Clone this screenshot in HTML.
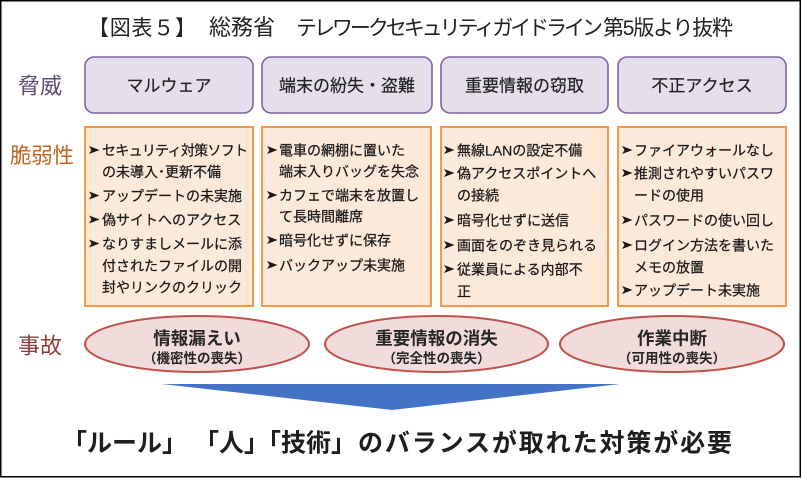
<!DOCTYPE html>
<html><head><meta charset="utf-8">
<style>
html,body{margin:0;padding:0;background:#fff;}
svg{display:block;}
text{font-family:"Liberation Sans","Noto Sans CJK JP",sans-serif;}
.v{font-size:14px;fill:#1a1a1a;stroke:#1a1a1a;stroke-width:0.25;}
</style></head>
<body>
<svg width="802" height="478" viewBox="0 0 802 478" xmlns="http://www.w3.org/2000/svg">
<rect x="0" y="0" width="802" height="478" fill="#fff"/>
<rect x="0.75" y="0.75" width="799.5" height="476" fill="none" stroke="#000" stroke-width="1.5"/>

<!-- Title -->
<g font-size="21" fill="#222">
<text x="88" y="35" textLength="108">【図表５】</text>
<text x="209" y="35" font-size="22">総務省</text>
<text x="296" y="35" textLength="307">テレワークセキュリティガイドライン</text>
<text x="603" y="35" textLength="130">第5版より抜粋</text>
</g>

<!-- Row labels -->
<text x="18" y="93.5" font-size="22" fill="#5c4d6c" textLength="44">脅威</text>
<text x="10" y="163" font-size="21.5" fill="#c0651f" textLength="64">脆弱性</text>
<text x="18" y="353.5" font-size="22" fill="#8c3b3b" textLength="44">事故</text>

<!-- Threat boxes -->
<g fill="#e5dfec" stroke="#8064a2" stroke-width="1.6">
<rect x="85" y="57" width="168" height="56" rx="9"/>
<rect x="262" y="57" width="170" height="56" rx="9"/>
<rect x="441" y="57" width="167" height="56" rx="9"/>
<rect x="618" y="57" width="168" height="56" rx="9"/>
</g>
<g font-size="17" fill="#222" text-anchor="middle" stroke="#222" stroke-width="0.2">
<text x="169" y="91.5">マルウェア</text>
<text x="347" y="91.5">端末の紛失・盗難</text>
<text x="524.5" y="91.5">重要情報の窃取</text>
<text x="702" y="91.5">不正アクセス</text>
</g>

<!-- Vulnerability boxes -->
<g fill="#fde9d9" stroke="#f79646" stroke-width="2">
<rect x="85" y="127" width="168" height="179"/>
<rect x="262" y="127" width="169" height="179"/>
<rect x="441" y="127" width="167" height="179"/>
<rect x="618" y="127" width="168" height="179"/>
</g>

<!-- Bullets (arrowheads) -->
<g fill="#1a1a1a">
<polygon points="89,146 99.5,150 89,154 91.5,150"/>
<polygon points="89,191.5 99.5,195.5 89,199.5 91.5,195.5"/>
<polygon points="89,215.5 99.5,219.5 89,223.5 91.5,219.5"/>
<polygon points="89,239.5 99.5,243.5 89,247.5 91.5,243.5"/>

<polygon points="267,146 277.5,150 267,154 269.5,150"/>
<polygon points="267,191 277.5,195 267,199 269.5,195"/>
<polygon points="267,236 277.5,240 267,244 269.5,240"/>
<polygon points="267,261 277.5,265 267,269 269.5,265"/>

<polygon points="444,146 454.5,150 444,154 446.5,150"/>
<polygon points="444,169 454.5,173 444,177 446.5,173"/>
<polygon points="444,216 454.5,220 444,224 446.5,220"/>
<polygon points="444,241 454.5,245 444,249 446.5,245"/>
<polygon points="444,265 454.5,269 444,273 446.5,269"/>

<polygon points="622,146 632.5,150 622,154 624.5,150"/>
<polygon points="622,169 632.5,173 622,177 624.5,173"/>
<polygon points="622,216 632.5,220 622,224 624.5,220"/>
<polygon points="622,241 632.5,245 622,249 624.5,245"/>
<polygon points="622,286 632.5,290 622,294 624.5,290"/>
</g>

<!-- Box 1 -->
<text class="v" x="102" y="155.3" textLength="146">セキュリティ対策ソフト</text>
<text class="v" x="102" y="176.8">の未導入･更新不備</text>
<text class="v" x="102" y="200.8">アップデートの未実施</text>
<text class="v" x="102" y="224.8">偽サイトへのアクセス</text>
<text class="v" x="102" y="248.8">なりすましメールに添</text>
<text class="v" x="102" y="270.8">付されたファイルの開</text>
<text class="v" x="102" y="292.3">封やリンクのクリック</text>

<!-- Box 2 -->
<text class="v" x="279" y="155.3">電車の網棚に置いた</text>
<text class="v" x="279" y="176.3">端末入りバッグを失念</text>
<text class="v" x="279" y="200.3">カフェで端末を放置し</text>
<text class="v" x="279" y="221.3">て長時間離席</text>
<text class="v" x="279" y="245.3">暗号化せずに保存</text>
<text class="v" x="279" y="270.3">バックアップ未実施</text>

<!-- Box 3 -->
<text class="v" x="457" y="155.3">無線LANの設定不備</text>
<text class="v" x="457" y="178.3">偽アクセスポイントへ</text>
<text class="v" x="457" y="200.3">の接続</text>
<text class="v" x="457" y="225.3">暗号化せずに送信</text>
<text class="v" x="457" y="250.3">画面をのぞき見られる</text>
<text class="v" x="457" y="274.3">従業員による内部不</text>
<text class="v" x="457" y="296.3">正</text>

<!-- Box 4 -->
<text class="v" x="634" y="155.3">ファイアウォールなし</text>
<text class="v" x="634" y="178.3">推測されやすいパスワ</text>
<text class="v" x="634" y="200.3">ードの使用</text>
<text class="v" x="634" y="225.3">パスワードの使い回し</text>
<text class="v" x="634" y="250.3">ログイン方法を書いた</text>
<text class="v" x="634" y="272.3">メモの放置</text>
<text class="v" x="634" y="295.3">アップデート未実施</text>

<!-- Incident ellipses -->
<g fill="#f2dcdb" stroke="#c0504d" stroke-width="2">
<ellipse cx="197" cy="344" rx="112" ry="28"/>
<ellipse cx="436.5" cy="344" rx="111.5" ry="28"/>
<ellipse cx="672" cy="344" rx="112" ry="28"/>
</g>
<g fill="#262626" text-anchor="middle" font-weight="bold">
<text x="197" y="344.5" font-size="17.5">情報漏えい</text>
<text x="197" y="363" font-size="13.5">（機密性の喪失）</text>
<text x="436.5" y="344.5" font-size="17.5">重要情報の消失</text>
<text x="436.5" y="363" font-size="13.5">（完全性の喪失）</text>
<text x="672" y="344.5" font-size="17.5">作業中断</text>
<text x="672" y="363" font-size="13.5">（可用性の喪失）</text>
</g>

<!-- Blue arrow triangle -->
<polygon points="162,384 620,384 392,410" fill="#4472c4"/>

<!-- Bottom message -->
<g font-size="25" font-weight="bold" fill="#1e1e1e">
<text x="62" y="451.5">「ルール」</text>
<text x="194" y="451.5">「人」</text>
<text x="256" y="451.5">「技術」</text>
<text x="358" y="451.5" textLength="374">のバランスが取れた対策が必要</text>
</g>
</svg>
</body></html>
